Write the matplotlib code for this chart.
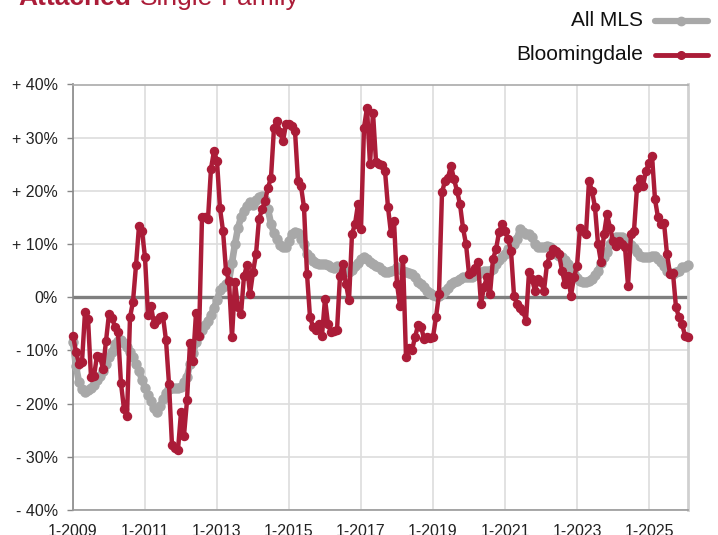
import numpy as np
import matplotlib.pyplot as plt
from matplotlib.lines import Line2D

plt.rcParams['font.family'] = ['Liberation Sans', 'DejaVu Sans']

# 월별 전년 대비 변화율 (%), 2009년 1월부터
all_mls = [
    -8.4, -13.0, -16.0, -17.2, -17.8, -17.5, -17.0, -16.5, -15.6, -14.8, -13.8, -12.5,
    -11.3, -10.2, -8.8, -8.2, -8.1, -8.6, -9.4, -10.3, -11.3, -12.5, -13.8, -15.5,
    -17.0, -18.3, -19.5, -20.9, -21.5, -20.5, -19.2, -18.0, -17.3, -17.0, -17.0, -17.0,
    -16.9, -16.0, -15.0, -12.5, -10.5, -8.5, -7.2, -6.2, -5.3, -4.5, -3.3, -2.0,
    -0.5, 1.3, 2.0, 2.5, 3.1, 6.5, 10.0, 13.0, 15.0, 16.3, 17.2, 18.0,
    17.3, 18.2, 18.8, 19.0, 18.3, 16.5, 13.8, 12.0, 10.9, 9.8, 9.4, 9.4,
    10.5, 11.9, 12.2, 12.0, 11.0, 10.0, 8.1, 7.5, 6.9, 6.5, 6.25, 6.25,
    6.2, 6.0, 5.6, 5.5, 5.9, 5.7, 5.2, 5.0, 4.8, 5.2, 5.8, 6.5,
    7.2, 7.5, 7.2, 6.6, 6.2, 5.8, 5.6, 5.2, 4.8, 4.8, 5.0, 5.2,
    5.6, 5.3, 5.0, 4.8, 4.6, 4.4, 3.8, 2.8, 2.4, 1.9, 1.2, 0.8,
    0.5, 0.3, 0.3, 0.6, 1.25, 1.8, 2.5, 2.8, 3.1, 3.4, 3.75, 3.75,
    3.75, 3.8, 4.1, 4.4, 4.7, 5.0, 5.0, 5.0, 5.4, 6.25, 7.0, 7.6,
    8.1, 9.0, 9.5, 10.0, 11.0, 12.8, 12.3, 11.9, 11.9, 11.25, 10.0, 9.4,
    9.4, 9.5, 9.7, 9.4, 8.6, 8.1, 7.8, 7.5, 7.0, 6.25, 5.5, 4.4,
    3.7, 3.1, 2.9, 2.8, 3.0, 3.4, 4.2, 5.0, 6.5, 7.5, 8.5, 10.0,
    10.8, 11.25, 11.25, 11.25, 10.8, 10.3, 9.8, 9.2, 8.5, 7.8, 7.6, 7.5,
    7.5, 7.7, 7.8, 7.2, 6.6, 5.8, 5.0, 4.5, 4.4, 4.7, 5.0, 5.6,
    5.75, 6.0,
]

bloomingdale = [
    -7.2, -10.3, -12.5, -12.2, -2.8, -4.0, -15.0, -14.8, -11.0, -11.2, -13.4, -8.3,
    -3.1, -3.9, -5.6, -6.6, -16.2, -21.0, -22.4, -3.8, -0.8, 6.0, 13.4, 12.5,
    7.5, -3.3, -1.6, -5.0, -4.2, -3.8, -3.6, -8.1, -16.3, -27.8, -28.3, -28.7,
    -21.6, -26.0, -19.4, -8.6, -12.0, -3.0, -7.3, 15.0, 15.0, 14.7, 24.2, 27.5,
    25.6, 16.7, 12.5, 5.0, 3.1, -7.5, 2.8, -1.9, -3.1, 4.0, 6.0, 0.6,
    4.7, 8.1, 14.7, 16.5, 18.1, 20.6, 22.5, 31.9, 33.1, 31.0, 29.4, 32.5,
    32.5, 32.2, 31.25, 21.9, 20.9, 16.9, 4.4, -3.75, -5.5, -6.25, -5.0, -7.2,
    -0.3, -5.0, -6.6, -6.3, -6.25, 4.0, 6.25, 2.5, -0.6, 11.9, 13.75, 17.5,
    12.8, 31.9, 35.6, 25.0, 34.7, 25.5, 25.0, 24.8, 23.75, 16.9, 12.0, 14.4,
    2.5, -1.6, 7.2, -11.25, -9.5, -10.0, -7.5, -5.3, -5.5, -7.8, -7.5, -7.6,
    -7.5, -3.75, 0.6, 19.7, 21.9, 22.5, 24.7, 22.2, 20.0, 17.5, 13.0, 10.0,
    4.4, 4.7, 5.5, 6.6, -1.25, 2.0, 3.75, 0.6, 7.2, 9.0, 12.2, 13.75,
    12.5, 11.0, 8.75, 0.3, -1.25, -2.0, -2.5, -4.4, 4.7, 3.4, 1.25, 3.4,
    2.8, 1.25, 6.25, 8.0, 9.0, 8.75, 8.1, 5.0, 2.5, 4.0, 0.3, 3.75,
    5.9, 13.1, 12.5, 11.9, 21.9, 20.0, 16.9, 10.0, 6.6, 11.9, 15.6, 13.1,
    10.6, 9.7, 10.6, 10.0, 9.4, 2.2, 11.9, 12.5, 20.6, 22.2, 21.0, 23.75,
    25.3, 26.6, 18.4, 15.0, 13.75, 14.0, 8.1, 4.4, 4.5, -1.9, -3.75, -5.0,
    -7.2, -7.4,
]

x_labels = ['1-2009', '1-2011', '1-2013', '1-2015', '1-2017', '1-2019', '1-2021', '1-2023', '1-2025']
y_ticks = [-40, -30, -20, -10, 0, 10, 20, 30, 40]

RED = '#AB1C38'
GRAY = '#A8A8A8'

fig = plt.figure(figsize=(7.18, 5.35), dpi=100)
ax = fig.add_axes([73 / 718, 1 - 510 / 535, 615 / 718, 425.5 / 535])

months = np.arange(len(all_mls))
ax.axhline(0, color='#7F7F7F', linewidth=2.4, zorder=2)
ax.plot(months, all_mls, '-o', color=GRAY, linewidth=4.8, markersize=6.5, zorder=3, clip_on=False)
ax.plot(months, bloomingdale, '-o', color=RED, linewidth=3.2, markersize=5.8, zorder=4, clip_on=False)

ax.set_xlim(0, 205)
ax.set_ylim(-40, 40)
ax.set_xticks(np.arange(len(x_labels)) * 24)
ax.set_xticklabels(x_labels)
ax.set_yticks(y_ticks)
ax.set_yticklabels([('+ %d%%' % v) if v > 0 else ('- %d%%' % -v) if v < 0 else '0%' for v in y_ticks])

ax.grid(True, color='#DDDDDD', linewidth=1.2, zorder=0)
ax.set_axisbelow(True)
ax.tick_params(axis='x', length=0, pad=10, labelsize=11.5, labelcolor='#222222')
ax.tick_params(axis='y', length=4, width=1, color='#888888', pad=7, labelsize=11.5, labelcolor='#222222')

ax.spines['left'].set_color('#888888')
ax.spines['left'].set_linewidth(1.2)
ax.spines['bottom'].set_color('#999999')
ax.spines['bottom'].set_linewidth(1.2)
ax.spines['top'].set_color('#AAAAAA')
ax.spines['top'].set_linewidth(1.2)
ax.spines['right'].set_color('#D0D0D0')
ax.spines['right'].set_linewidth(2.0)

# 제목
t1 = fig.text(18 / 718, 1 - 5 / 535, 'Attached', fontsize=19, fontweight='bold', color=RED, va='baseline')
fig.canvas.draw()
bb = t1.get_window_extent()
fig.text(bb.x1 / 718 + 9 / 718, 1 - 5 / 535, 'Single-Family', fontsize=19, color=RED, va='baseline')

# 범례
for label, color, yc, lw, ms in [('All MLS', GRAY, 20.5, 4.5, 6), ('Bloomingdale', RED, 54.5, 3.5, 5.5)]:
    fig.text(643 / 718, 1 - (yc + 6) / 535, label, fontsize=15, color='#111111', ha='right', va='baseline')
    fig.add_artist(Line2D([655 / 718, 708 / 718], [1 - yc / 535] * 2, color=color, linewidth=lw,
                          solid_capstyle='round', transform=fig.transFigure))
    fig.add_artist(Line2D([681 / 718], [1 - yc / 535], marker='o', color=color, markersize=ms,
                          transform=fig.transFigure))

plt.savefig('out.png', dpi=100)
